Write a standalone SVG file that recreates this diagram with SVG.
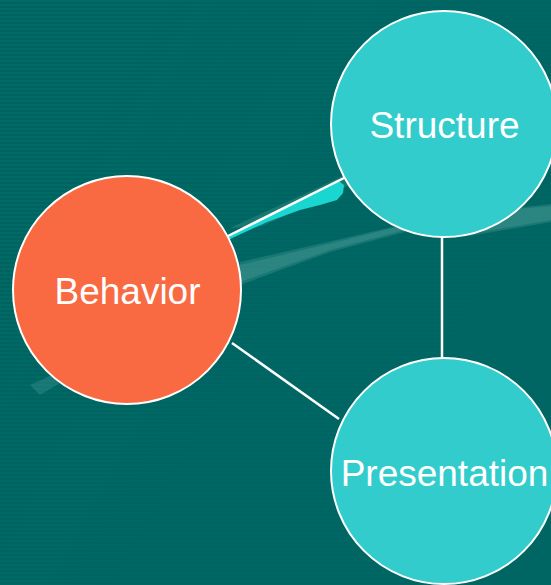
<svg xmlns="http://www.w3.org/2000/svg" width="551" height="585" viewBox="0 0 551 585">
<defs>
<pattern id="stripes" x="0" y="0" width="8" height="4" patternUnits="userSpaceOnUse">
<rect x="0" y="0" width="8" height="2" fill="#006b68"/>
<rect x="0" y="2" width="8" height="2" fill="#00625f"/>
</pattern>
<linearGradient id="fade" x1="0" y1="0" x2="1" y2="0.6">
<stop offset="0" stop-color="#006663" stop-opacity="0"/>
<stop offset="0.35" stop-color="#006663" stop-opacity="0.3"/>
<stop offset="0.6" stop-color="#006663" stop-opacity="0.85"/>
<stop offset="1" stop-color="#006663" stop-opacity="0.9"/>
</linearGradient>
</defs>
<style>
.node-teal{fill:#33cccc;stroke:#ffffff;stroke-width:2}
.node-orange{fill:#f96a42;stroke:#ffffff;stroke-width:2}
.label{font-family:"Liberation Sans",Arial,sans-serif;font-size:37px;fill:#ffffff;text-anchor:middle}
.conn{stroke:#ffffff;stroke-width:2.5;fill:none}
.swoosh{fill:#5aa9a2;fill-opacity:0.28}
</style>
<g id="background">
<rect x="0" y="0" width="551" height="585" fill="url(#stripes)"/>
<rect x="0" y="0" width="551" height="585" fill="url(#fade)"/>
<polygon class="swoosh" points="30,385 130,340 240,265 345,240 440,216 551,204 551,222 470,236 420,228 330,252 240,285 140,335 40,395" fill-opacity="0.22"/>
<polygon class="swoosh" points="240,262 345,238 440,216 551,206 551,220 470,234 420,226 330,250 240,282" fill-opacity="0.25"/>
<polygon class="swoosh" points="230,228 300,196 380,158 392,154 385,164 330,196 262,226" fill-opacity="0.12"/>
</g>
<g id="connectors">
<polygon points="226,238 338,180.5 344,185 343,193 337,200 320,205 300,210 267,222 228,240" fill="#1ad6d0"/>
<line class="conn" x1="226" y1="237" x2="346" y2="177"/>
<line class="conn" x1="442" y1="237" x2="442" y2="358"/>
<line class="conn" x1="232" y1="343" x2="339" y2="419"/>
</g>
<g id="structure">
<circle class="node-teal" cx="444" cy="124" r="113"/>
<text class="label" x="444.5" y="138">Structure</text>
</g>
<g id="behavior">
<circle class="node-orange" cx="127" cy="290" r="114"/>
<text class="label" x="127.5" y="304">Behavior</text>
</g>
<g id="presentation">
<circle class="node-teal" cx="444" cy="471" r="113"/>
<text class="label" x="444.5" y="486">Presentation</text>
</g>
</svg>
